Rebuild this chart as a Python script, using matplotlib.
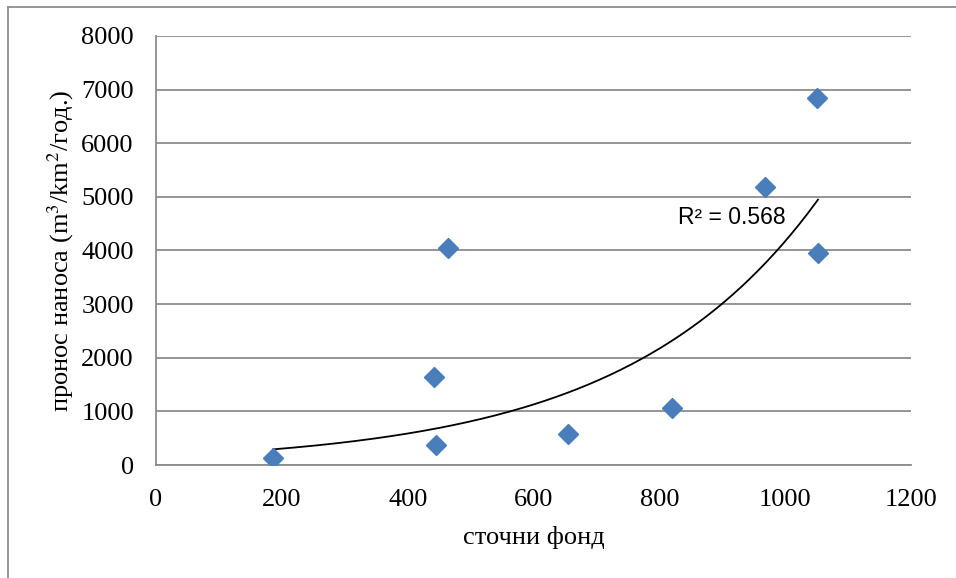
import numpy as np
import matplotlib
matplotlib.use("Agg")
import matplotlib.pyplot as plt
from matplotlib.lines import Line2D

plt.rcParams['font.family'] = ['Liberation Serif', 'DejaVu Serif']
plt.rcParams['mathtext.fontset'] = 'stix'

# стоки фонд vs пронос наноса
fond = [186, 442, 445, 464, 655, 820, 968, 1051, 1052]
pronos = [130, 1640, 373, 4048, 578, 1063, 5186, 6846, 3955]
r2_text = "R² = 0.568"

# exponential trendline (like Excel) fitted on the data
b, ln_a = np.polyfit(fond, np.log(pronos), 1)
xt = np.linspace(min(fond), max(fond), 200)
yt = np.exp(ln_a) * np.exp(b * xt)

fig = plt.figure(figsize=(9.56, 5.78), dpi=100)
ax = fig.add_axes([0.1632, 0.1955, 0.7898, 0.7423])

ax.plot(xt, yt, color="black", lw=1.3, zorder=3)
ax.plot(fond, pronos, linestyle="none", marker="D", markersize=10.5,
        color="#4a7ebb", zorder=4)

ax.set_xlim(0, 1200)
ax.set_ylim(0, 8000)
ax.set_xticks(range(0, 1201, 200))
ax.set_yticks(range(0, 8001, 1000))
ax.grid(axis="y", color="#8c8c8c", lw=1.3)
ax.set_axisbelow(True)
for s in ["top", "right"]:
    ax.spines[s].set_visible(False)
for s in ["left", "bottom"]:
    ax.spines[s].set_color("#8c8c8c")
    ax.spines[s].set_linewidth(1.3)
ax.tick_params(length=0, labelsize=19)
ax.tick_params(axis="x", pad=17)
ax.tick_params(axis="y", pad=16)

ax.set_xlabel("сточни фонд", fontsize=19, labelpad=11)
ax.set_ylabel("пронос наноса (m$^3$/km$^2$/год.)", fontsize=19, labelpad=4)

ax.text(830, 4608, r2_text, fontsize=16.5, family="Liberation Sans",
        va="center", ha="left")

# outer chart frame (only left and top edges visible)
fig.add_artist(Line2D([8/956, 8/956], [0, 1 - 7/578], transform=fig.transFigure,
                      color="#8c8c8c", lw=1.3))
fig.add_artist(Line2D([8/956, 1], [1 - 7/578, 1 - 7/578], transform=fig.transFigure,
                      color="#8c8c8c", lw=1.3))

fig.savefig("out.png", dpi=100)
